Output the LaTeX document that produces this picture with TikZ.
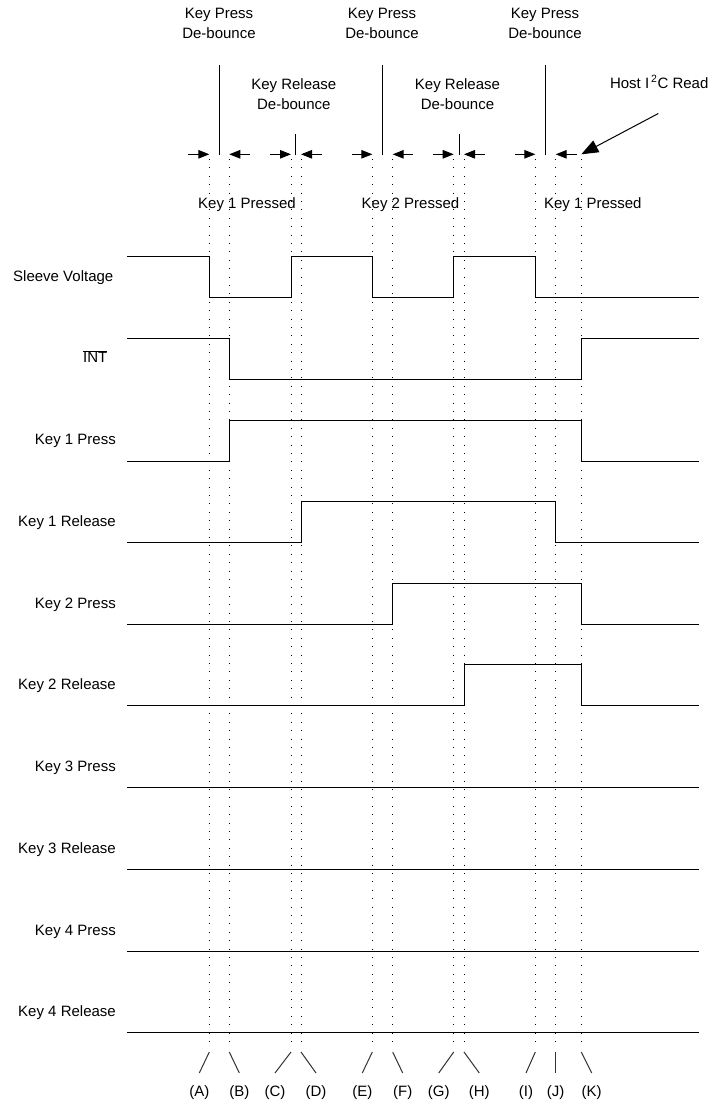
\documentclass[tikz,border=0pt]{standalone}
\usepackage{fontspec}
\setmainfont{Liberation Sans}
\usetikzlibrary{arrows.meta}
\begin{document}
\begin{tikzpicture}[x=1pt,y=-1pt,
  sig/.style={line width=1pt, line join=miter},
  dotl/.style={line width=1pt, dash pattern=on 1pt off 7.4pt},
  lbl/.style={inner sep=0pt, font=\fontsize{15}{19.3}\selectfont},
  harr/.style={line width=1pt, -{Triangle[length=11pt,width=8.5pt]}},
  bigarr/.style={line width=1pt, -{Triangle[length=17pt,width=13pt]}},
  tickl/.style={line width=1pt},
  slant/.style={line width=1pt, black!80},
]
\useasboundingbox (0,0) rectangle (708,1101);
% time markers
\def\tA{209.3}\def\tB{229.3}\def\tC{291}\def\tD{301}\def\tE{372.3}
\def\tF{392.7}\def\tG{453.7}\def\tH{464}\def\tI{535.3}\def\tJ{555.7}\def\tK{581.3}
\def\xs{127}\def\xe{699}
% dotted time lines
\foreach \t/\n in {\tA/A,\tB/B,\tC/C,\tD/D,\tE/E,\tF/F,\tG/G,\tH/H,\tI/I,\tJ/J,\tK/K}{
  \coordinate (top\n) at (\t,159);
  \coordinate (bot\n) at (\t,1048);
  \draw[dotl] (top\n) -- (bot\n);
}
% top annotations
\node[lbl, anchor=north, align=center] (kp1) at (219,8.3) {Key Press\\De-bounce};
\node[lbl, anchor=north, align=center] (kp2) at (382,8.3) {Key Press\\De-bounce};
\node[lbl, anchor=north, align=center] (kp3) at (545,8.3) {Key Press\\De-bounce};
\node[lbl, anchor=north, align=center] (kr1) at (293.8,78.7) {Key Release\\De-bounce};
\node[lbl, anchor=north, align=center] (kr2) at (457.5,78.7) {Key Release\\De-bounce};
\node[lbl, anchor=base west] (host) at (609.8,88) {Host I\hspace{2pt}\textsuperscript{2}C Read};
% de-bounce tick lines
\coordinate (v1a) at (219.3,65);  \coordinate (v1b) at (219.3,155);
\coordinate (v2a) at (295.7,134); \coordinate (v2b) at (295.7,155);
\coordinate (v3a) at (382.3,65);  \coordinate (v3b) at (382.3,155);
\coordinate (v4a) at (459.3,134); \coordinate (v4b) at (459.3,155);
\coordinate (v5a) at (545.7,65);  \coordinate (v5b) at (545.7,155);
\foreach \v in {1,...,5}{\draw[tickl] (v\v a) -- (v\v b);}
% horizontal arrows
\def\ya{154.3}
\foreach \s/\e [count=\i] in {188/\tA, 250/\tB, 270/\tC, 321.7/\tD, 351.7/\tE, 412.7/\tF, 433/\tG, 485/\tH, 515/\tI, 576.7/\tJ}{
  \coordinate (as\i) at (\s,\ya);
  \coordinate (ae\i) at (\e,\ya);
  \draw[harr] (as\i) -- (ae\i);
}
\coordinate (hs) at (658.3,113.5);
\coordinate (he) at (\tK,154.3);
\draw[bigarr] (hs) -- (he);
% pressed labels
\node[lbl, anchor=base] (p1) at (247,208.3) {Key 1 Pressed};
\node[lbl, anchor=base] (p2) at (410.5,208.3) {Key 2 Pressed};
\node[lbl, anchor=base] (p3) at (592.8,208.3) {Key 1 Pressed};
% signal labels
\node[lbl, anchor=base east] (lsv) at (113.5,281.5) {Sleeve Voltage};
\node[lbl, anchor=base east] (lint) at (107.5,362.8) {$\overline{\hbox{INT}}$};
\node[lbl, anchor=base east] (lk1p) at (116,444.8) {Key 1 Press};
\node[lbl, anchor=base east] (lk1r) at (116,526.5) {Key 1 Release};
\node[lbl, anchor=base east] (lk2p) at (116,608.2) {Key 2 Press};
\node[lbl, anchor=base east] (lk2r) at (116,689.9) {Key 2 Release};
\node[lbl, anchor=base east] (lk3p) at (116,771.6) {Key 3 Press};
\node[lbl, anchor=base east] (lk3r) at (116,853.3) {Key 3 Release};
\node[lbl, anchor=base east] (lk4p) at (116,935) {Key 4 Press};
\node[lbl, anchor=base east] (lk4r) at (116,1016.7) {Key 4 Release};
% waveforms
\draw[sig] (\xs,256.3) -- (\tA,256.3) -- (\tA,297.3) -- (\tC,297.3) -- (\tC,256.3) -- (\tE,256.3) -- (\tE,297.3) -- (\tG,297.3) -- (\tG,256.3) -- (\tI,256.3) -- (\tI,297.3) -- (\xe,297.3);
\draw[sig] (\xs,338.3) -- (\tB,338.3) -- (\tB,379.3) -- (\tK,379.3) -- (\tK,338.3) -- (\xe,338.3);
\draw[sig] (\xs,461) -- (\tB,461) -- (\tB,420) -- (\tK,420) -- (\tK,461) -- (\xe,461);
\draw[sig] (\xs,542.5) -- (\tD,542.5) -- (\tD,501.5) -- (\tJ,501.5) -- (\tJ,542.5) -- (\xe,542.5);
\draw[sig] (\xs,624.2) -- (\tF,624.2) -- (\tF,583.2) -- (\tK,583.2) -- (\tK,624.2) -- (\xe,624.2);
\draw[sig] (\xs,705.9) -- (\tH,705.9) -- (\tH,664.9) -- (\tK,664.9) -- (\tK,705.9) -- (\xe,705.9);
\draw[sig] (\xs,787.6) -- (\xe,787.6);
\draw[sig] (\xs,869.3) -- (\xe,869.3);
\draw[sig] (\xs,951) -- (\xe,951);
\draw[sig] (\xs,1032.7) -- (\xe,1032.7);
% bottom markers and labels
\foreach \t/\d/\n in {\tA/-10/A,\tB/10/B,\tC/-16/C,\tD/15/D,\tE/-10/E,\tF/10/F,\tG/-15/G,\tH/15.3/H,\tI/-9.3/I,\tJ/0/J,\tK/10.4/K}{
  \coordinate (s\n) at (\t,1052);
  \coordinate (e\n) at ({\t+\d},1073);
  \draw[slant] (s\n) -- (e\n);
  \node[lbl, anchor=base] (lab\n) at ({\t+\d},1096.5) {(\n)};
}
\end{tikzpicture}
\end{document}
